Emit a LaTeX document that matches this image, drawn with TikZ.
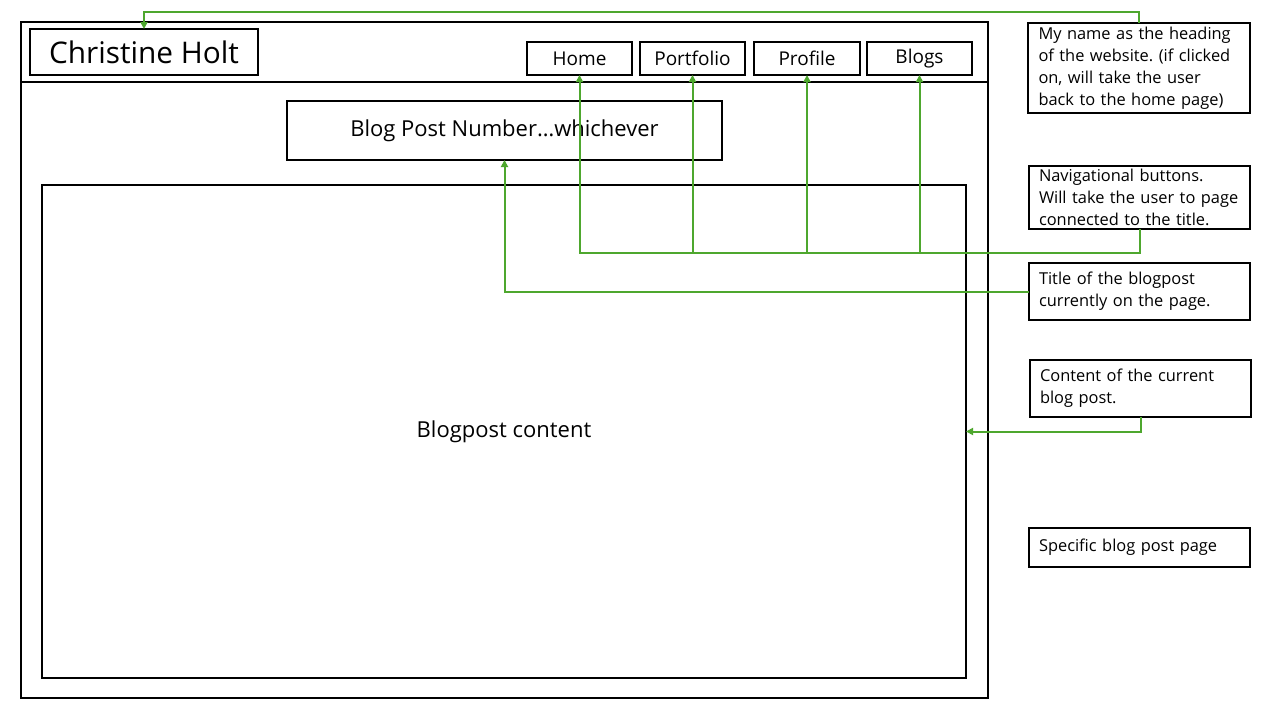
\documentclass[tikz,border=0pt]{standalone}
\usepackage{fontspec}
\setmainfont{Open Sans}
\usetikzlibrary{arrows.meta}
\definecolor{linkgreen}{RGB}{78,167,46}
\frenchspacing
\begin{document}
\begin{tikzpicture}[x=1pt,y=-1pt,
  frame/.style={draw=black,line width=2pt},
  pagebox/.style={draw=black,line width=2pt,inner sep=0pt,outer sep=0pt},
  navbtn/.style={pagebox,minimum width=105pt,minimum height=33pt,font=\fontsize{19}{21}\selectfont},
  note/.style={pagebox,align=left,anchor=center,text width=201pt,inner xsep=10pt,
    font=\fontsize{16.4}{22}\selectfont},
  conn/.style={draw=linkgreen,line width=2pt,-{Triangle[length=7pt,width=7pt]}}]
\useasboundingbox (0,0) rectangle (1280,720);
\fill[white] (0,0) rectangle (1280,720);

% browser window and header bar
\draw[frame] (21,22) rectangle (988,698);
\draw[frame] (21,82) -- (988,82);

% site heading
\node[pagebox,minimum width=228pt,minimum height=46pt,font=\fontsize{29.8}{32}\selectfont]
  (name) at (144,52) {Christine Holt};

% navigation buttons
\node[navbtn] (home) at (579.5,58.5) {Home};
\node[navbtn] (portfolio) at (692.5,58.5) {Portfolio};
\node[navbtn,minimum width=106pt] (profile) at (807,58.5) {Profile};
\node[navbtn] (blogs) at (919.5,58.5) {Blogs};

% post title and body
\node[pagebox,minimum width=435pt,minimum height=59pt,font=\fontsize{22}{24}\selectfont]
  (title) at (504.5,130.5) {Blog Post Number\ldots whichever};
\node[pagebox,minimum width=924pt,minimum height=493pt,font=\fontsize{22}{24}\selectfont]
  (content) at (504,431.5) {Blogpost content};

% annotations
\node[note,minimum width=222pt,minimum height=90pt] (ann1) at (1139,68)
  {My name as the heading\\of the website. (if clicked\\on, will take the user\\back to the home page)};
\node[note,minimum width=221pt,minimum height=63pt] (ann2) at (1139.5,197.5)
  {Navigational buttons.\\Will take the user to page\\connected to the title.};
\node[note,minimum width=221pt,minimum height=57pt] (ann3) at (1139.5,291.5)
  {Title of the blogpost\\currently on the page.};
\node[note,minimum width=221pt,minimum height=57pt] (ann4) at (1140.5,388.5)
  {Content of the current\\blog post.};
\node[note,minimum width=221pt,minimum height=39pt] (ann5) at (1139.5,547.5)
  {Specific blog post page};

% connectors
\draw[conn] (ann1.north) -- ++(0,-11) -| (name.north);
\coordinate (navbus) at (1139.5,253);
\draw[conn] (ann2.south) -- (navbus) -| (home.south);
\draw[conn] (portfolio.south |- navbus) -- (portfolio.south);
\draw[conn] (profile.south |- navbus) -- (profile.south);
\draw[conn] (blogs.south |- navbus) -- (blogs.south);
\draw[conn] (ann3.west) -| (title.south);
\draw[conn] (ann4.south) |- (content.east);
\end{tikzpicture}
\end{document}
